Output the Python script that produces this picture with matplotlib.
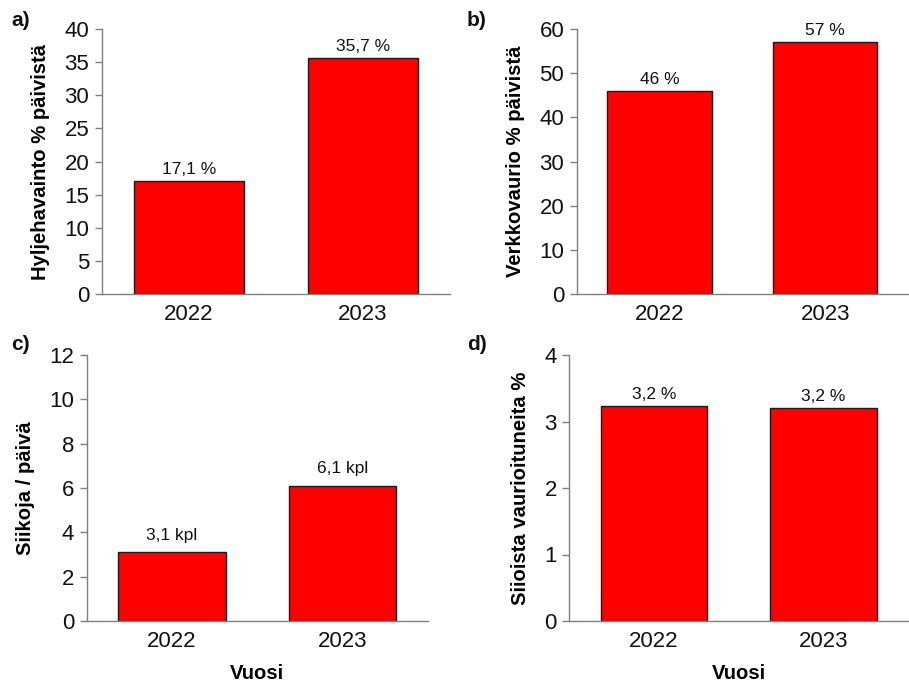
import matplotlib
matplotlib.use("Agg")
import matplotlib.pyplot as plt

plt.rcParams['font.family'] = ['Liberation Sans', 'DejaVu Sans']

years = ["2022", "2023"]

seal_days = [17.1, 35.7]        # a) seal sighting, % of days
net_damage = [46, 57]           # b) net damage, % of days
whitefish_per_day = [3.1, 6.1]  # c) whitefish / day
damaged_share = [3.23, 3.20]    # d) damaged whitefish, %

W, H = 909, 686
fig = plt.figure(figsize=(W / 100, H / 100), dpi=100)


def make_axes(left, right, top, bottom):
    # pixel box -> figure fraction
    return fig.add_axes([left / W, 1 - bottom / H, (right - left) / W, (bottom - top) / H])


def panel(ax, values, ylim, yticks, ylabel, labels, offset, xlabel=None):
    x = range(len(years))
    ax.bar(x, values, width=0.63, color="#ff0000", edgecolor="#1a1a1a", linewidth=1)
    ax.set_xlim(-0.5, 1.5)
    ax.set_ylim(*ylim)
    ax.set_yticks(yticks)
    ax.set_xticks(list(x))
    ax.set_xticklabels(years)
    for sp in ("top", "right"):
        ax.spines[sp].set_visible(False)
    for sp in ("left", "bottom"):
        ax.spines[sp].set_color("#808080")
        ax.spines[sp].set_linewidth(1)
    ax.tick_params(axis="y", length=5, width=1, color="#808080", pad=4,
                   labelsize=16, labelcolor="#111111")
    ax.tick_params(axis="x", length=0, pad=7, labelsize=16, labelcolor="#111111")
    ax.set_ylabel(ylabel, fontsize=14.6, fontweight="bold", labelpad=10)
    if xlabel:
        ax.set_xlabel(xlabel, fontsize=14.6, fontweight="bold", labelpad=9)
    for xi, v, t in zip(x, values, labels):
        ax.annotate(t, (xi, v), xytext=(0, offset), textcoords="offset points",
                    ha="center", va="baseline", fontsize=12.5, color="#111111")


ax_a = make_axes(101.7, 450, 29, 294.3)
panel(ax_a, seal_days, (0, 40), range(0, 41, 5), "Hyljehavainto % päivistä",
      [f"{v:.1f} %".replace(".", ",") for v in seal_days], 5)

ax_b = make_axes(576.7, 908, 29, 294.3)
panel(ax_b, net_damage, (0, 60), range(0, 61, 10), "Verkkovaurio % päivistä",
      [f"{v} %" for v in net_damage], 5)

ax_c = make_axes(86.7, 428, 355, 621)
panel(ax_c, whitefish_per_day, (0, 12), range(0, 13, 2), "Siikoja / päivä",
      [f"{v:.1f} kpl".replace(".", ",") for v in whitefish_per_day], 9, xlabel="Vuosi")

ax_d = make_axes(569.3, 908, 355, 621)
panel(ax_d, damaged_share, (0, 4), range(0, 5), "Siioista vaurioituneita %",
      [f"{v:.1f} %".replace(".", ",") for v in damaged_share], 5, xlabel="Vuosi")

for tag, px, py in (("a)", 11, 20), ("b)", 467, 20), ("c)", 11, 345), ("d)", 467, 345)):
    fig.text(px / W, 1 - py / H, tag, fontsize=15, fontweight="bold",
             ha="left", va="center", color="#111111")

fig.savefig("out.png", dpi=100)
